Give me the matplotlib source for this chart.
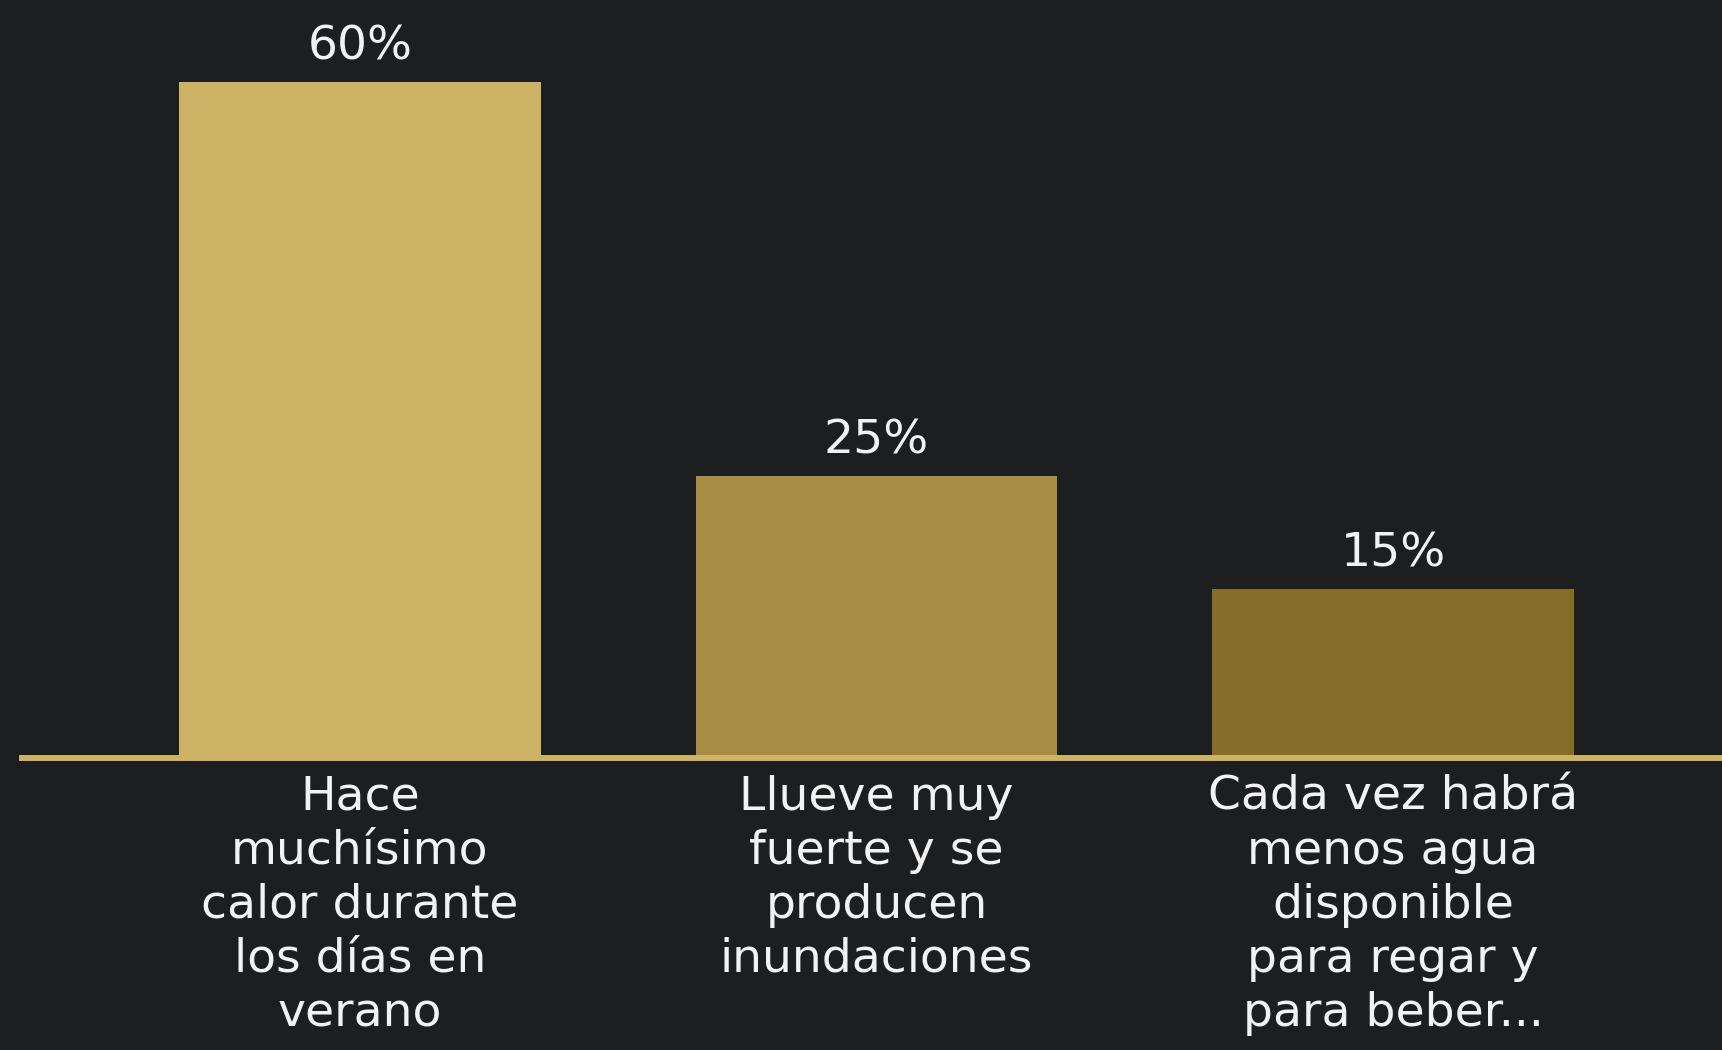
import matplotlib
matplotlib.use("Agg")
import matplotlib.pyplot as plt

categories = [
    "Hace\nmuchísimo\ncalor durante\nlos días en\nverano",
    "Llueve muy\nfuerte y se\nproducen\ninundaciones",
    "Cada vez habrá\nmenos agua\ndisponible\npara regar y\npara beber...",
]
values = [60, 25, 15]
value_labels = ["60%", "25%", "15%"]
colors = ["#CDB366", "#A88E45", "#846C2B"]

BG = "#1d1e20"
GOLD = "#CDB366"

plt.rcParams['font.family'] = ['DejaVu Sans']

fig = plt.figure(figsize=(17.22, 10.5), dpi=100, facecolor=BG)
ax = fig.add_axes([22/1722, (1050-758)/1050, 1 - 22/1722, (758-82)/1050])
ax.set_facecolor(BG)
ax.patch.set_alpha(0)

x = list(range(len(values)))
ax.bar(x, values, width=0.7, color=colors, zorder=2)

ax.set_xlim(-0.654, 2.637)
ax.set_ylim(0, 60)

for xi, v, lab in zip(x, values, value_labels):
    ax.annotate(lab, (xi, v), xytext=(0, 9), textcoords="offset points",
                ha="center", va="bottom", color="#f2f2f2", fontsize=34)

ax.set_xticks(x)
ax.set_xticklabels(categories, color="#f2f2f2", fontsize=34,
                   linespacing=1.26, ha="center", va="top", multialignment="center")
ax.tick_params(axis="x", length=0, pad=12)
ax.tick_params(axis="y", left=False, labelleft=False)

for side in ["top", "left", "right"]:
    ax.spines[side].set_visible(False)
ax.spines["bottom"].set_color(GOLD)
ax.spines["bottom"].set_linewidth(4.3)
ax.spines["bottom"].set_zorder(3)

fig.savefig("out.png", dpi=100, facecolor=BG)
